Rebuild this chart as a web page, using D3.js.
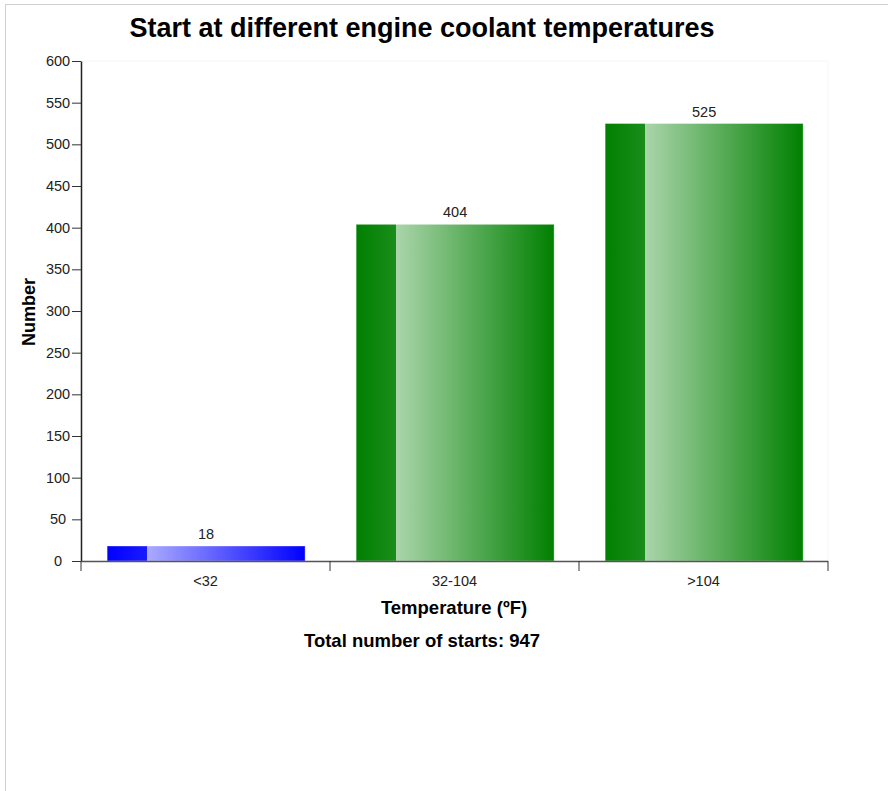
<!DOCTYPE html>
<html>
<head>
<meta charset="utf-8">
<script src="https://cdn.jsdelivr.net/npm/d3@7"></script>
<style>
  html, body { margin: 0; padding: 0; background: #fff; }
  svg { display: block; font-family: "Liberation Sans", Arial, sans-serif; }
</style>
</head>
<body>
<svg id="chart" width="888" height="791"></svg>
<script>
const categories = ["<32", "32-104", ">104"];
const values = [18, 404, 525];
const barColors = ["#0000ff", "#008000", "#008000"];
const yTicks = [0, 50, 100, 150, 200, 250, 300, 350, 400, 450, 500, 550, 600];
const titleText = "Start at different engine coolant temperatures";
const xTitle = "Temperature (\u00BAF)";
const yTitle = "Number";
const totalText = "Total number of starts: " + d3.sum(values);

const svg = d3.select("#chart");

// frame border
svg.append("rect").attr("x", 5.5).attr("y", 4.5).attr("width", 1000).attr("height", 1000)
  .attr("fill", "none").attr("stroke", "#d0d0d0").attr("stroke-width", 1);

const x = d3.scaleBand().domain(categories).range([81, 828]).padding(0);
const y = d3.scaleLinear().domain([0, 600]).range([561, 61]);

// faint plot area
svg.append("rect").attr("x", 81).attr("y", 61).attr("width", 747).attr("height", 500)
  .attr("fill", "none").attr("stroke", "#f6f6f6");

// gradients
const defs = svg.append("defs");
barColors.forEach((c, i) => {
  const base = d3.color(c);
  const g = defs.append("linearGradient").attr("id", "grad" + i)
    .attr("x1", "0%").attr("x2", "100%").attr("y1", "0%").attr("y2", "0%");
  g.append("stop").attr("offset", "0%").attr("stop-color", base.formatHex());
  g.append("stop").attr("offset", "20%").attr("stop-color", d3.interpolateRgb(c, "#fff")(0.1));
  g.append("stop").attr("offset", "20%").attr("stop-color", d3.interpolateRgb(c, "#fff")(0.67));
  g.append("stop").attr("offset", "100%").attr("stop-color", base.formatHex());
});

// bars
const inset = 0.105, frac = 0.795;
svg.selectAll("rect.bar").data(values).enter().append("rect")
  .attr("class", "bar")
  .attr("x", (d, i) => x(categories[i]) + x.bandwidth() * inset)
  .attr("width", x.bandwidth() * frac)
  .attr("y", d => y(d))
  .attr("height", d => y(0) - y(d))
  .attr("fill", (d, i) => "url(#grad" + i + ")")
  .attr("stroke", "rgba(255,255,255,0.35)")
  .attr("stroke-width", 1);

// value labels
svg.selectAll("text.val").data(values).enter().append("text")
  .attr("class", "val")
  .attr("x", (d, i) => x(categories[i]) + x.bandwidth() * (inset + frac / 2))
  .attr("y", d => y(d) - 7)
  .attr("text-anchor", "middle")
  .attr("font-size", 14.5).attr("fill", "#222")
  .text(d => d);

// y axis
const yAxis = svg.append("g").attr("transform", "translate(81,0)")
  .call(d3.axisLeft(y).tickValues(yTicks).tickSize(9).tickSizeOuter(0));
yAxis.select(".domain").attr("stroke", "#222").attr("stroke-width", 1.5);
yAxis.selectAll(".tick line").attr("stroke", "#333");
yAxis.selectAll(".tick text").attr("font-size", 14.5).attr("fill", "#222")
  .attr("font-family", "Liberation Sans, Arial, sans-serif")
  .attr("text-anchor", "middle").attr("x", -23);

// x axis (ticks at band boundaries)
const xAxisG = svg.append("g").attr("transform", "translate(0,561)");
xAxisG.append("line").attr("x1", 81).attr("x2", 828).attr("y1", 0.5).attr("y2", 0.5)
  .attr("stroke", "#555").attr("stroke-width", 1.5);
const boundaries = categories.map(c => x(c)).concat([x(categories[categories.length - 1]) + x.bandwidth()]);
xAxisG.selectAll("line.tk").data(boundaries).enter().append("line")
  .attr("class", "tk")
  .attr("x1", d => d).attr("x2", d => d).attr("y1", 0).attr("y2", 10)
  .attr("stroke", "#333");
xAxisG.selectAll("text.cat").data(categories).enter().append("text")
  .attr("class", "cat")
  .attr("x", d => x(d) + x.bandwidth() / 2)
  .attr("y", 25)
  .attr("text-anchor", "middle")
  .attr("font-size", 14.5).attr("fill", "#222")
  .text(d => d);

// titles
svg.append("text").attr("x", 422).attr("y", 37).attr("text-anchor", "middle")
  .attr("font-size", 27).attr("font-weight", "bold").attr("fill", "#000")
  .text(titleText);

svg.append("text").attr("x", 454).attr("y", 614).attr("text-anchor", "middle")
  .attr("font-size", 18.5).attr("font-weight", "bold").attr("fill", "#000")
  .text(xTitle);

svg.append("text").attr("x", 422).attr("y", 647).attr("text-anchor", "middle")
  .attr("font-size", 18.5).attr("font-weight", "bold").attr("fill", "#000")
  .text(totalText);

svg.append("text").attr("transform", "translate(35,312) rotate(-90)")
  .attr("text-anchor", "middle")
  .attr("font-size", 18).attr("font-weight", "bold").attr("fill", "#000")
  .text(yTitle);
</script>
</body>
</html>
